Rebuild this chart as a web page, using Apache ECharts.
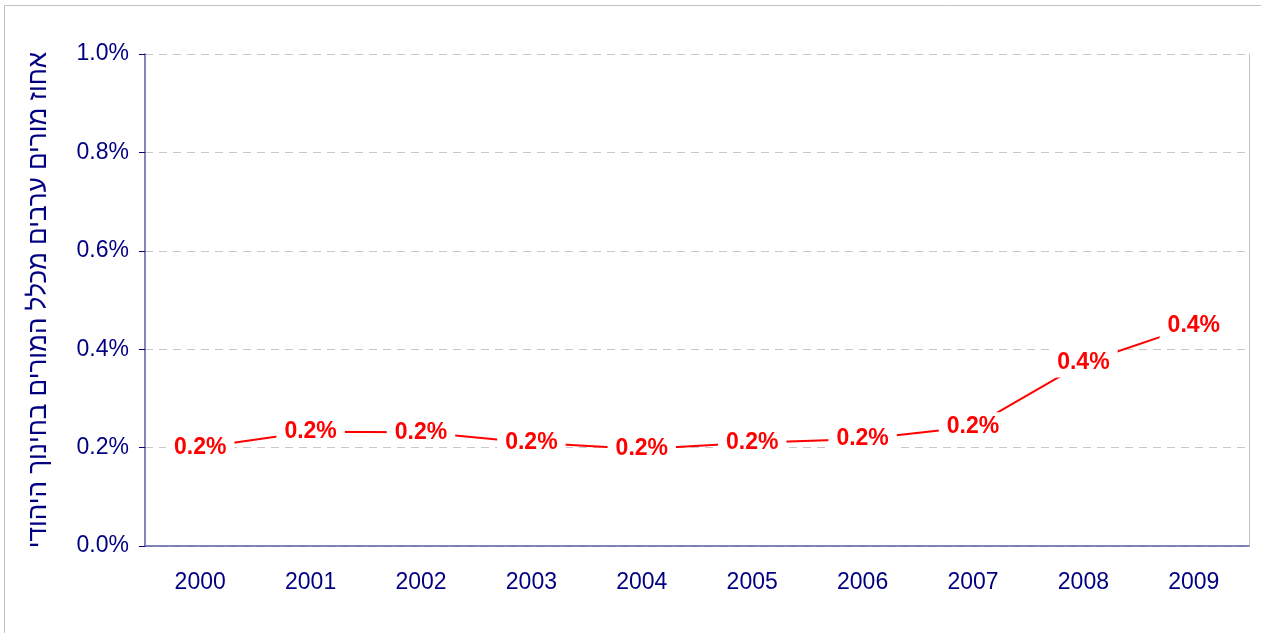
<!DOCTYPE html>
<html>
<head>
<meta charset="utf-8">
<script src="https://cdn.jsdelivr.net/npm/echarts@6/dist/echarts.min.js"></script>
<style>
  html, body { margin: 0; padding: 0; background: #fff; }
  #chart { width: 1261px; height: 633px; }
</style>
</head>
<body>
<div id="chart"></div>
<script>
  // years on the x axis
  const years = ['2000', '2001', '2002', '2003', '2004', '2005', '2006', '2007', '2008', '2009']
  // share of Arab teachers, in percent
  const share = [0.200, 0.232, 0.231, 0.210, 0.197, 0.210, 0.2175, 0.2425, 0.372, 0.448]
  const yTicks = [0, 0.2, 0.4, 0.6, 0.8, 1.0]
  const yName = 'אחוז מורים ערבים מכלל המורים בחינוך היהודי'

  const navy = '#000080'
  const font = '"Liberation Sans", Arial, sans-serif'

  const chart = echarts.init(document.getElementById('chart'))
  chart.setOption({
    animation: false,
    backgroundColor: '#fff',
    textStyle: { fontFamily: font },
    graphic: [{
      type: 'rect',
      shape: { x: 4.5, y: 5.5, width: 1400, height: 800 },
      style: { fill: 'none', stroke: '#c0c0c0', lineWidth: 1 },
      silent: true
    }],
    grid: { left: 145, right: 12, top: 54, bottom: 87 },
    xAxis: {
      type: 'category',
      data: years,
      axisLine: { lineStyle: { color: '#5c5ca8', width: 1.5 } },
      axisTick: { length: 7, lineStyle: { color: navy } },
      axisLabel: { color: navy, fontSize: 23, margin: 25, fontFamily: font }
    },
    yAxis: [{
      type: 'value',
      min: yTicks[0],
      max: yTicks[yTicks.length - 1],
      interval: 0.2,
      name: yName,
      nameLocation: 'middle',
      nameRotate: 90,
      nameGap: 93,
      nameTextStyle: { color: navy, fontSize: 26, fontFamily: font },
      axisLine: { show: true, lineStyle: { color: '#5c5ca8', width: 1.5 } },
      axisTick: { show: true, length: 6, lineStyle: { color: navy } },
      axisLabel: {
        color: navy, fontSize: 23, margin: 16, fontFamily: font,
        formatter: v => v.toFixed(1) + '%'
      },
      splitLine: { lineStyle: { color: '#c8c8c8', type: [8, 6], width: 1 } }
    }, {
      type: 'value',
      position: 'right',
      min: 0,
      max: 1,
      interval: 0.2,
      axisLine: { show: true, lineStyle: { color: '#c0c0c0', width: 1 } },
      axisTick: { show: false },
      axisLabel: { show: false },
      splitLine: { show: false }
    }],
    series: [{
      type: 'line',
      data: share,
      symbol: 'circle',
      symbolSize: 0,
      lineStyle: { color: '#ff0000', width: 2 },
      itemStyle: { color: '#ff0000' },
      label: {
        show: true,
        position: 'inside',
        color: '#ff0000',
        fontWeight: 'bold',
        fontSize: 23,
        fontFamily: font,
        backgroundColor: '#fff',
        padding: [3, 8],
        formatter: p => p.value.toFixed(1) + '%'
      }
    }]
  })
</script>
</body>
</html>
